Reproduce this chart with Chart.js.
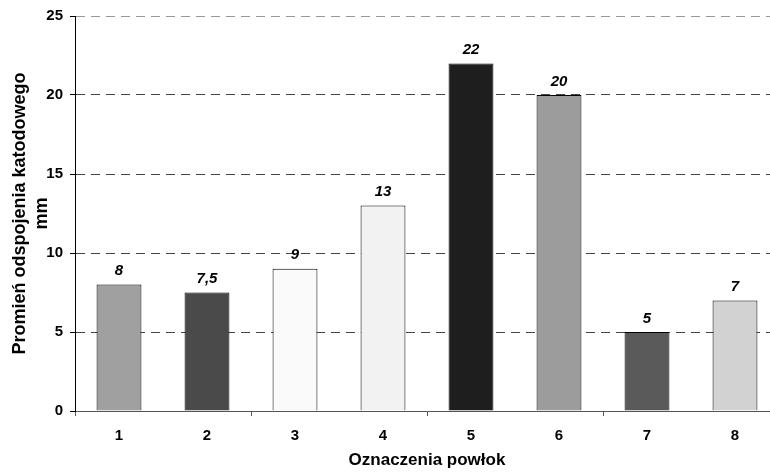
<!DOCTYPE html>
<html lang="pl">
<head>
    <meta charset="UTF-8">
    <title>Promień odspojenia katodowego</title>
    <script src="https://cdn.jsdelivr.net/npm/chart.js"></script>
    <style>
        html, body {
            margin: 0;
            padding: 0;
            background-color: #ffffff;
            overflow: hidden;
        }
        .chart-box {
            width: 790px;
            height: 473px;
        }
    </style>
</head>
<body>
    <div class="chart-box">
        <canvas id="barChart"></canvas>
    </div>

    <script>
        const categories = ['1', '2', '3', '4', '5', '6', '7', '8'];
        const radiusValues = [8, 7.5, 9, 13, 22, 20, 5, 7];
        const valueLabels = ['8', '7,5', '9', '13', '22', '20', '5', '7'];
        const barColors = ['#a0a0a0', '#4a4a4a', '#fafafa', '#f2f2f2', '#1e1e1e', '#9c9c9c', '#5a5a5a', '#d2d2d2'];
        const yTicks = [0, 5, 10, 15, 20, 25];

        Chart.defaults.font.family = '"Liberation Sans", Arial, sans-serif';
        Chart.defaults.color = '#000';

        // etykiety wartości nad słupkami
        const valueLabelPlugin = {
            id: 'valueLabels',
            afterDatasetsDraw(chart) {
                const ctx = chart.ctx;
                const meta = chart.getDatasetMeta(0);
                ctx.save();
                ctx.font = 'italic bold 15px "Liberation Sans", Arial, sans-serif';
                ctx.fillStyle = '#000';
                ctx.textAlign = 'center';
                ctx.textBaseline = 'bottom';
                meta.data.forEach((bar, i) => {
                    ctx.fillText(valueLabels[i], bar.x, bar.y - 6);
                });
                ctx.restore();
            }
        };

        const ctx = document.getElementById('barChart').getContext('2d');
        const barChart = new Chart(ctx, {
            type: 'bar',
            data: {
                labels: categories,
                datasets: [{
                    data: radiusValues,
                    backgroundColor: barColors,
                    borderColor: '#000',
                    borderWidth: 1,
                    barPercentage: 0.51,
                    categoryPercentage: 1
                }]
            },
            options: {
                responsive: true,
                maintainAspectRatio: false,
                animation: false,
                layout: { padding: { top: 7, right: 11, left: 4, bottom: 0 } },
                plugins: {
                    legend: { display: false },
                    tooltip: { enabled: false }
                },
                scales: {
                    x: {
                        offset: true,
                        afterFit: axis => { axis.height = 62; },
                        grid: {
                            offset: true,
                            drawOnChartArea: false,
                            drawTicks: true,
                            tickLength: 5,
                            color: c => (c.index % 2 === 0 ? '#555' : 'rgba(0,0,0,0)')
                        },
                        border: { display: true, color: '#555', width: 1 },
                        ticks: {
                            font: { size: 15, weight: 'bold' },
                            padding: 11
                        },
                        title: {
                            display: true,
                            text: 'Oznaczenia powłok',
                            font: { size: 17, weight: 'bold' },
                            padding: { top: 0, bottom: 2 }
                        }
                    },
                    y: {
                        min: 0,
                        max: 25,
                        afterFit: axis => { axis.width = 71; },
                        afterBuildTicks: axis => {
                            axis.ticks = yTicks.map(v => ({ value: v }));
                        },
                        grid: {
                            drawTicks: true,
                            tickLength: 5,
                            color: c => (c.tick && c.tick.value === 25 ? '#999' : (c.tick && c.tick.value === 0 ? 'rgba(0,0,0,0)' : '#444')),
                            tickColor: '#000'
                        },
                        border: { display: true, color: '#000', width: 1, dash: [9, 6] },
                        ticks: {
                            font: { size: 15, weight: 'bold' },
                            padding: 7
                        },
                        title: {
                            display: true,
                            text: ['Promień odspojenia katodowego', 'mm'],
                            font: { size: 18, weight: 'bold', lineHeight: 1.22 },
                            padding: { top: 5, bottom: 0 }
                        }
                    }
                }
            },
            plugins: [valueLabelPlugin]
        });
    </script>
</body>
</html>
